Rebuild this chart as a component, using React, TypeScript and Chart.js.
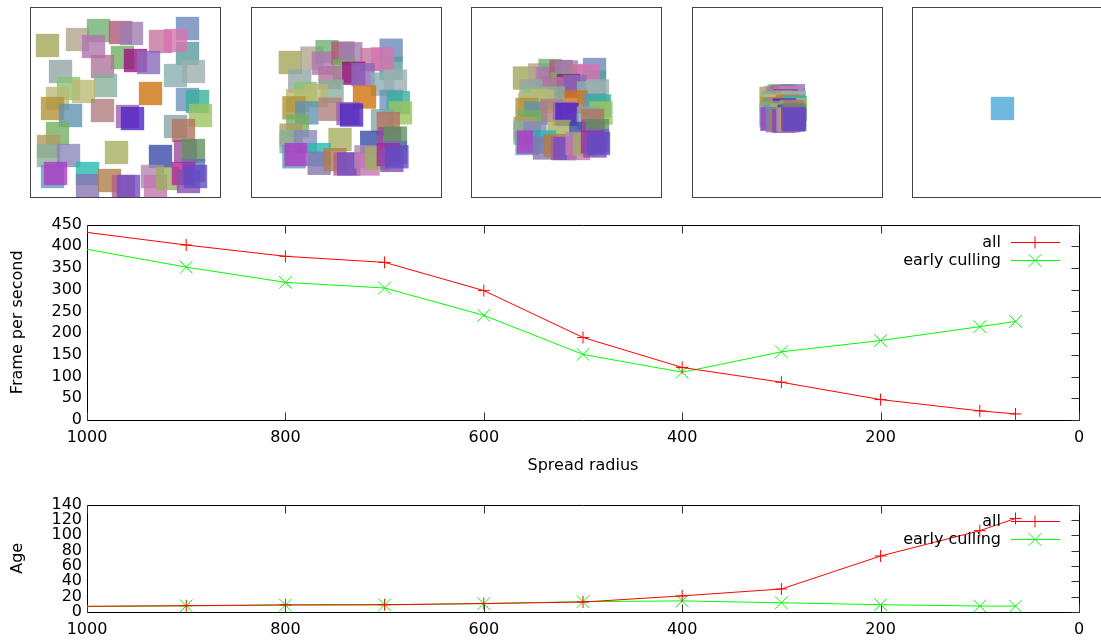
import React, { useEffect, useRef } from 'react';
import { Chart, registerables } from 'chart.js';

Chart.register(...registerables);

// ---------- data: line charts ----------
const RADII = [1000, 900, 800, 700, 600, 500, 400, 300, 200, 100, 64];
const FPS_ALL = [432, 403, 377, 363, 298, 190, 121, 87, 47, 21, 14];
const FPS_EARLY = [393, 352, 317, 304, 241, 151, 110, 157, 183, 215, 227];
const AGE_ALL = [7.5, 8.2, 9.3, 9.5, 11, 13, 21, 30, 73, 106, 122];
const AGE_EARLY = [7, 8, 9, 9.3, 11, 13.5, 14.5, 12, 9.5, 7.8, 7.6];
const SERIES_LABELS = ['all', 'early culling'];
const X_TITLE = 'Spread radius';
const FPS_TITLE = 'Frame per second';
const AGE_TITLE = 'Age';

// ---------- data: square snapshots (offsets from panel centre at full spread) ----------
const SQ_X = [-78, -48, -27, -32, -5, 6, 35, 62, 62, 50, -3, 10, 23, -23, -65, -20, 50, 68, -57, -68, -42, -73, -55, -23, 25, 62, 72, 75, 2, 7, 50, 58, -68, -77, -77, -57, -9, 35, 60, 68, 68, -73, -70, -38, -38, -16, -2, 3, 27, 30, 42, 58, 63, 70];
const SQ_Y = [-57, -63, -72, -56, -70, -69, -61, -74, -49, -62, -45, -42, -40, -36, -31, -17, -27, -31, -14, -4, -11, 6, 13, 8, -9, -3, -1, 13, 14, 16, 24, 28, 31, 44, 53, 53, 50, 54, 49, 48, 68, 74, 71, 71, 83, 78, 84, 84, 74, 84, 76, 71, 79, 74];
const SQ_COLOR = ['#b5b87a', '#c0b8a5', '#8cc08c', '#c090c0', '#c07a90', '#b098c0', '#d090b0', '#8aa0c8', '#7ab0b0', '#e090c0', '#8cc080', '#b040a0', '#a088c8', '#c090b0', '#a8b8b8', '#a0c0b0', '#a0c0c0', '#b0c0c0', '#a0d090', '#c8c890', '#c8c890', '#c0a860', '#80a8c0', '#c09898', '#d89040', '#8aa8c8', '#60c0b0', '#b0d080', '#b080c0', '#7050d0', '#a0b8b8', '#c09080', '#90c080', '#c0b080', '#a0c0b0', '#a0a0c8', '#b8c080', '#6070b8', '#b070b0', '#80a880', '#8090c0', '#80b0c8', '#c060d0', '#50c8c0', '#a090c0', '#c09870', '#c080a0', '#9070d0', '#c0a0c0', '#d090c0', '#b0c080', '#c050b0', '#a070c0', '#8070d0'];
const PANEL_SPREAD = [1, 0.72, 0.5, 0.16, 0];
const COLLAPSED_X = [-5];
const COLLAPSED_Y = [6];
const COLLAPSED_COLOR = ['#6fb8de'];

// ---------- layout / style ----------
const PANEL_LEFT = [30, 251, 471, 692, 912];
const PANEL_NUDGE_X = [0, 0, -3, -4, 0];
const PANEL_NUDGE_Y = [0, 1, 4, 5, 0];
const PANEL_TOP = 7;
const PANEL_SIZE = 191;
const SQ_ALPHA = 0.8;
const SQ_RADIUS = 16.5;
const FONT = { family: 'DejaVu Sans', size: 16 };
const RED = '#ff0000';
const GREEN = '#00ff00';

function washed(hex: string): string {
  const n = parseInt(hex.slice(1), 16);
  const c = [(n >> 16) & 255, (n >> 8) & 255, n & 255].map((v) =>
    Math.max(0, Math.min(255, Math.round((v - (1 - SQ_ALPHA) * 255) / SQ_ALPHA)))
  );
  return `rgba(${c[0]},${c[1]},${c[2]},${SQ_ALPHA})`;
}

const panelFrame = {
  id: 'panelFrame',
  afterDraw(chart: any) {
    const { ctx, width, height } = chart;
    ctx.save();
    ctx.strokeStyle = '#444';
    ctx.lineWidth = 1;
    ctx.strokeRect(0.5, 0.5, width - 1, height - 1);
    ctx.restore();
  },
};

function Panel({ index }: { index: number }) {
  const ref = useRef<HTMLCanvasElement>(null);
  useEffect(() => {
    const spread = PANEL_SPREAD[index];
    const half = PANEL_SIZE / 2;
    const range = spread > 0 ? half / spread : half;
    const k = range / half;
    const sx = PANEL_NUDGE_X[index] * k;
    const sy = PANEL_NUDGE_Y[index] * k;
    const data =
      spread > 0
        ? SQ_X.map((x, i) => ({ x, y: SQ_Y[i] }))
        : COLLAPSED_X.map((x, i) => ({ x, y: COLLAPSED_Y[i] }));
    const colors = spread > 0 ? SQ_COLOR.map(washed) : COLLAPSED_COLOR;
    const chart = new Chart(ref.current!, {
      type: 'scatter',
      data: {
        datasets: [
          {
            data,
            backgroundColor: colors,
            pointBackgroundColor: colors,
            pointStyle: 'rect',
            pointRadius: SQ_RADIUS,
            pointBorderWidth: 0,
            borderWidth: 0,
            clip: 0,
          } as any,
        ],
      },
      options: {
        animation: false,
        responsive: false,
        events: [],
        layout: { padding: 0, autoPadding: false },
        plugins: { legend: { display: false }, tooltip: { enabled: false } },
        scales: {
          x: { type: 'linear', min: -range - sx, max: range - sx, display: false },
          y: { type: 'linear', min: -range - sy, max: range - sy, reverse: true, display: false },
        },
      } as any,
      plugins: [panelFrame],
    });
    return () => chart.destroy();
  }, [index]);
  return (
    <canvas
      ref={ref}
      width={PANEL_SIZE}
      height={PANEL_SIZE}
      style={{ position: 'absolute', left: PANEL_LEFT[index], top: PANEL_TOP, width: PANEL_SIZE, height: PANEL_SIZE }}
    />
  );
}

const MARKER_RADIUS = [6, 9];

function gnuplotPlugin(keyTop: number) {
  return {
    id: 'gnuplotFrame',
    beforeDatasetsDraw(chart: any) {
      const { ctx, chartArea: a, scales } = chart;
      const L = Math.round(a.left) + 0.5;
      const R = Math.round(a.right) + 0.5;
      const T = Math.round(a.top) + 0.5;
      const B = Math.round(a.bottom) + 0.5;
      ctx.save();
      ctx.strokeStyle = '#000';
      ctx.lineWidth = 1;
      ctx.beginPath();
      ctx.rect(L, T, R - L, B - T);
      ctx.stroke();
      ctx.strokeStyle = '#333';
      ctx.beginPath();
      scales.x.ticks.forEach((t: any) => {
        const px = Math.round(scales.x.getPixelForValue(t.value)) + 0.5;
        ctx.moveTo(px, B);
        ctx.lineTo(px, B - 8);
        ctx.moveTo(px, T);
        ctx.lineTo(px, T + 8);
      });
      scales.y.ticks.forEach((t: any) => {
        const py = Math.round(scales.y.getPixelForValue(t.value)) + 0.5;
        ctx.moveTo(R, py);
        ctx.lineTo(R - 8, py);
      });
      ctx.stroke();
      ctx.restore();
    },
    afterDatasetsDraw(chart: any) {
      const { ctx, chartArea: a } = chart;
      ctx.save();
      chart.data.datasets.forEach((ds: any, i: number) => {
        const y = Math.round(a.top + keyTop + i * 18) + 0.5;
        ctx.font = `${FONT.size}px ${FONT.family}`;
        ctx.fillStyle = '#000';
        ctx.textAlign = 'right';
        ctx.textBaseline = 'middle';
        ctx.fillText(ds.label, a.right - 78, y);
        ctx.strokeStyle = ds.borderColor;
        ctx.lineWidth = 1;
        ctx.beginPath();
        ctx.moveTo(a.right - 68, y);
        ctx.lineTo(a.right - 19, y);
        const mx = a.right - 44;
        const r = MARKER_RADIUS[i];
        if (ds.pointStyle === 'cross') {
          ctx.moveTo(mx - r, y);
          ctx.lineTo(mx + r, y);
          ctx.moveTo(mx, y - r);
          ctx.lineTo(mx, y + r);
        } else {
          const d = r * Math.SQRT1_2;
          ctx.moveTo(mx - d, y - d);
          ctx.lineTo(mx + d, y + d);
          ctx.moveTo(mx + d, y - d);
          ctx.lineTo(mx - d, y + d);
        }
        ctx.stroke();
      });
      ctx.restore();
    },
  };
}

type LineProps = {
  top: number;
  height: number;
  allValues: number[];
  earlyValues: number[];
  yMax: number;
  yStep: number;
  yTitle: string;
  xTitle: string | null;
  xAxisHeight: number;
  keyTop: number;
};

function LineChart(p: LineProps) {
  const ref = useRef<HTMLCanvasElement>(null);
  useEffect(() => {
    const mk = (label: string, vals: number[], color: string, style: string, r: number) => ({
      label,
      data: RADII.map((x, i) => ({ x, y: vals[i] })),
      borderColor: color,
      backgroundColor: color,
      pointBorderColor: color,
      borderWidth: 1,
      pointBorderWidth: 1,
      pointStyle: style,
      pointRadius: (c: any) => (c.raw && c.raw.x >= 1000 ? 0 : r),
      fill: false,
      tension: 0,
    });
    const ds0: any = mk(SERIES_LABELS[0], p.allValues, RED, 'cross', MARKER_RADIUS[0]);
    const ds1: any = mk(SERIES_LABELS[1], p.earlyValues, GREEN, 'crossRot', MARKER_RADIUS[1]);
    const plain = (v: any) => String(v);
    const chart = new Chart(ref.current!, {
      type: 'line',
      data: { datasets: [ds0, ds1] },
      options: {
        animation: false,
        responsive: false,
        events: [],
        layout: { padding: { top: 12, right: 22, left: 0, bottom: 0 }, autoPadding: false },
        plugins: { legend: { display: false }, tooltip: { enabled: false } },
        scales: {
          x: {
            type: 'linear',
            reverse: true,
            min: 0,
            max: 1000,
            ticks: { stepSize: 200, padding: 8.5, font: FONT, color: '#000', maxRotation: 0, autoSkip: false, callback: plain },
            grid: { display: false, drawTicks: false },
            border: { display: false },
            title: {
              display: !!p.xTitle,
              text: p.xTitle || '',
              font: FONT,
              color: '#000',
              padding: { top: 0, bottom: 4.4 },
            },
            afterFit: (s: any) => {
              s.height = p.xAxisHeight;
            },
          },
          y: {
            type: 'linear',
            min: 0,
            max: p.yMax,
            ticks: { stepSize: p.yStep, padding: 5, font: FONT, color: '#000', autoSkip: false, callback: plain },
            grid: { display: false, drawTicks: false },
            border: { display: false },
            title: { display: true, text: p.yTitle, font: FONT, color: '#000', padding: { top: 8, bottom: 0 } },
            afterFit: (s: any) => {
              s.width = 87;
            },
          },
        },
      } as any,
      plugins: [gnuplotPlugin(p.keyTop)],
    });
    return () => chart.destroy();
  }, []);
  return (
    <canvas
      ref={ref}
      width={1101}
      height={p.height}
      style={{ position: 'absolute', left: 0, top: p.top, width: 1101, height: p.height }}
    />
  );
}

export default function App() {
  return (
    <div
      style={{
        position: 'fixed',
        left: 0,
        top: 0,
        width: 1101,
        height: 640,
        overflow: 'hidden',
        background: '#fff',
      }}
    >
      {PANEL_LEFT.map((_, i) => (
        <Panel key={i} index={i} />
      ))}
      <LineChart
        top={210}
        height={270}
        allValues={FPS_ALL}
        earlyValues={FPS_EARLY}
        yMax={450}
        yStep={50}
        yTitle={FPS_TITLE}
        xTitle={X_TITLE}
        xAxisHeight={60}
        keyTop={17}
      />
      <LineChart
        top={490}
        height={150}
        allValues={AGE_ALL}
        earlyValues={AGE_EARLY}
        yMax={140}
        yStep={20}
        yTitle={AGE_TITLE}
        xTitle={null}
        xAxisHeight={28}
        keyTop={16.5}
      />
    </div>
  );
}
